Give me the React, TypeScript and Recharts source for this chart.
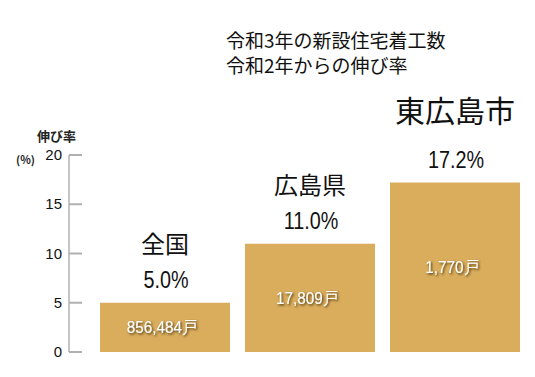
import { Bar, BarChart, LabelList, XAxis, YAxis } from 'recharts'

const regions = ['全国', '広島県', '東広島市']
const growthRates = [5.0, 11.0, 17.2]
const housingStarts = [856484, 17809, 1770]
const yTicks = [0, 5, 10, 15, 20]

const titleLines = ['令和3年の新設住宅着工数', '令和2年からの伸び率']

const data = regions.map((name, i) => ({ name, rate: growthRates[i], starts: housingStarts[i] }))

const JP = '"Noto Sans CJK JP", "Noto Sans", sans-serif'
const SANS = '"Liberation Sans", Arial, sans-serif'

function YTick({ x, y, payload }: any) {
  return (
    <g>
      <line x1={x} x2={x + 13} y1={y} y2={y} stroke="#b0b0b0" strokeWidth={2} />
      <text x={x - 7} y={y} dy={5} textAnchor="end" fontSize={15} fontFamily={SANS} fill="#111">
        {payload.value}
      </text>
    </g>
  )
}

function TopLabel(props: any) {
  const { x, y, width, index } = props
  const cx = x + width / 2
  const big = index === regions.length - 1 // the city gets the larger heading
  return (
    <g>
      <text x={cx} y={y - (big ? 61 : 50)} textAnchor="middle" fontSize={big ? 30 : 24} fontFamily={JP} fill="#111">
        {regions[index]}
      </text>
      {/* narrow look of the original percent figures */}
      <g transform={`translate(${cx + 1},${y - 15}) scale(0.86,1)`}>
        <text x={0} y={0} textAnchor="middle" fontSize={23} fontFamily={SANS} fill="#111">
          {growthRates[index].toFixed(1)}%
        </text>
      </g>
    </g>
  )
}

function InnerLabel(props: any) {
  const { x, y, width, height, index } = props
  return (
    <g transform={`translate(${x + width / 2 - 3},${y + height / 2 + 6}) scale(0.9,1)`}>
      <text x={0} y={0} textAnchor="middle" fontSize={17} fontFamily={SANS} fill="#fff" filter="url(#txtShadow)">
        {housingStarts[index].toLocaleString('en-US')}戸
      </text>
    </g>
  )
}

export default function App() {
  return (
    <div style={{ position: 'absolute', left: 0, top: 0, width: 535, height: 377, background: '#fff' }}>
      <svg width={0} height={0} style={{ position: 'absolute' }}>
        <defs>
          <filter id="txtShadow" x="-20%" y="-40%" width="140%" height="180%">
            <feDropShadow dx={1.3} dy={1.3} stdDeviation={1.2} floodColor="#3a2405" floodOpacity={0.95} />
          </filter>
        </defs>
      </svg>
      <BarChart width={535} height={377} data={data} margin={{ top: 155, right: 8, bottom: 25, left: 0 }}>
        <XAxis
          dataKey="name"
          tick={false}
          tickLine={false}
          height={0}
          padding={{ left: 23, right: 0 }}
          axisLine={{ stroke: '#8a8a8a', strokeWidth: 1.5 }}
        />
        <YAxis
          width={69}
          domain={[0, 20]}
          ticks={yTicks}
          tickSize={0}
          tickMargin={0}
          tickLine={false}
          tick={<YTick />}
          axisLine={{ stroke: '#8a8a8a', strokeWidth: 1 }}
        />
        <Bar dataKey="rate" fill="#d9ad5c" barSize={130} isAnimationActive={false}>
          <LabelList dataKey="rate" content={<TopLabel />} />
          <LabelList dataKey="starts" content={<InnerLabel />} />
        </Bar>
      </BarChart>
      <div style={{ position: 'absolute', left: 226, top: 27, fontFamily: JP, fontSize: 19, lineHeight: '25px', color: '#111' }}>
        {titleLines.map((t) => (
          <div key={t}>{t}</div>
        ))}
      </div>
      <div style={{ position: 'absolute', left: 37, top: 126, fontFamily: JP, fontSize: 13, fontWeight: 700, color: '#222' }}>伸び率</div>
      <div style={{ position: 'absolute', left: 16, top: 151, fontFamily: JP, fontSize: 11, fontWeight: 700, color: '#222' }}>(%)</div>
    </div>
  )
}
